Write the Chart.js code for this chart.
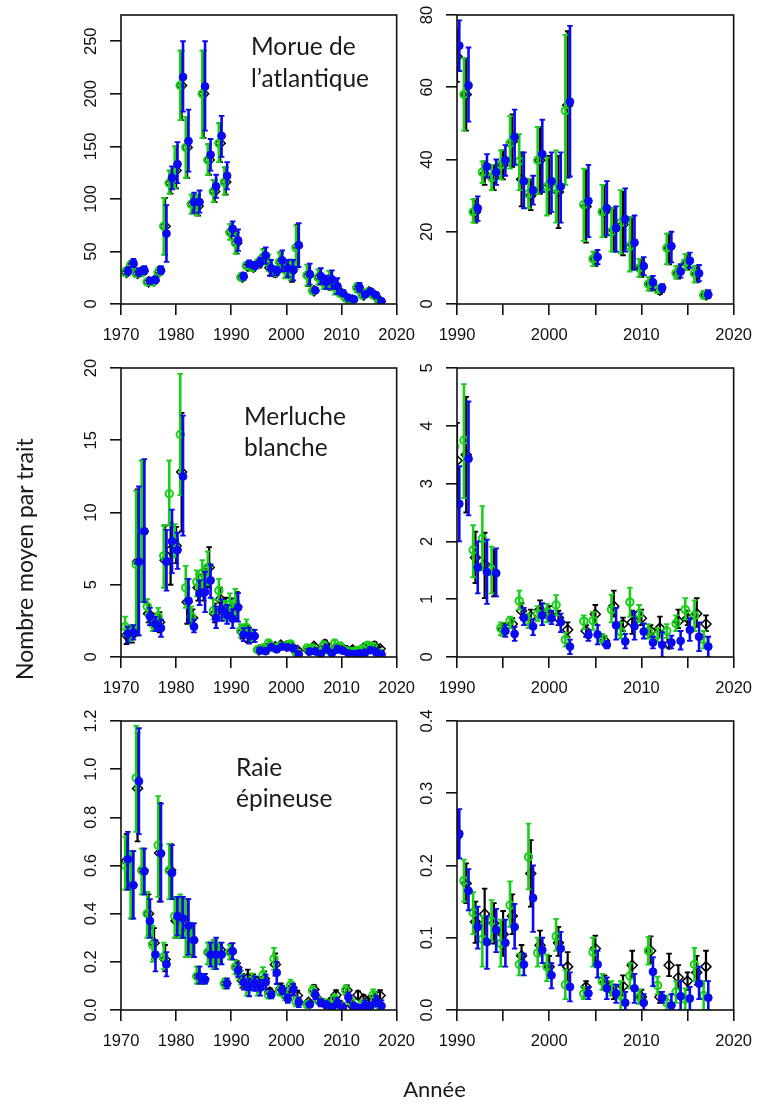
<!DOCTYPE html>
<html><head><meta charset="utf-8">
<script src="https://cdn.jsdelivr.net/npm/chart.js@4.4.1/dist/chart.umd.min.js"></script>
<style>
html,body{margin:0;padding:0;background:#fff;overflow:hidden;width:764px;height:1104px;position:relative}
canvas{position:absolute}
svg{position:absolute;left:0;top:0;pointer-events:none}
</style></head><body>
<script>
// ---------------- DATA ----------------
const years = [1971,1972,1973,1974,1975,1976,1977,1978,1979,1980,1981,1982,1983,1984,1985,1986,1987,1988,1989,
  1990,1991,1992,1993,1994,1995,1996,1997,1998,1999,2000,2001,2002,
  2004,2005,2006,2007,2008,2009,2010,2011,2012,2013,2014,2015,2016,2017];

// Morue de l'atlantique
const morueGreen   = [30,37,29,30,21,21,30,74,115,127,208,149,95,93,200,137,107,153,116, 68,58,25.5,36.5,35,38.5,44.5,39.5,30.5,39.8,32.5,32,53.5, 27.5,12.5,25.5,20,22.5,16,10,5.5,4,15.5,8.5,11.5,8.5,2.5];
const morueGreenLo = [27,33,26,27,18.5,18.5,27,47,105,110,175,120,86,84,158,123,97,135,104, 61,48,22.5,33.5,31.5,34.5,37.5,31.5,26.5,30.5,24.5,22.5,33, 17.5,10.5,18.5,14.5,14,9,7.5,3.7,3,11,7,9.5,6,1.5];
const morueGreenHi = [34,41,33,34,24,24,34,101,127,150,241,178,104,104,241,152,118,172,130, 76,68,29,39.5,38.5,42.5,52,47,34.5,49,40.5,42.5,74.5, 37.5,14.5,33,26.5,31.5,24,12.5,7.5,5.2,19.5,10.5,13.8,10.5,3.6];
const morueBlack   = [30,37,29,31,21,22,31,74,115,127,208,149,95,93,200,137,107,153,116, 68.5,58,25.5,36,35,38.5,45,34.5,30,39.8,33,31,55, 27,12.5,25.5,20.5,22,16.5,10,5.5,3.8,15.5,8.5,11.5,8.3,2.5];
const morueBlackLo = [27,33,26,28,18.5,19,28,47,105,110,175,120,86,84,158,123,97,135,104, 61.5,48,22.5,33,31.5,34.5,38,27,26,30.5,25,21,35, 17,10.5,18.5,14.5,13.5,9.5,7.5,3.7,2.8,11,7,9.5,6,1.5];
const morueBlackHi = [34,41,33,35,24,25,35,101,127,150,241,178,104,104,241,152,118,172,130, 76,68,29,39.5,38.5,42.5,52.5,42,34.5,49,41,41,75.5, 37,14.5,33,26.5,31,24,12.5,7.5,5,19.5,10.5,13.8,10.5,3.6];
const morueBlue    = [31,39,30,32,22,23,32,67,120,133,216,155,97,97,207,142,112,160,122, 71.5,60.5,26.5,38,36.5,39.8,46.2,34,31.5,41.5,34,32.5,56, 28.5,13,26.5,21,23.5,17,10.5,6,4.5,16,9,12,8.5,2.6];
const morueBlueLo  = [28,35,27,28.5,19.5,20,28.5,40,109,115,183,126,87,87,165,127,101,140,109, 64.5,50.5,23,35,33,35.5,38.5,26.5,27.5,31,25.5,22.5,35.3, 18.5,11,19,14.5,14.5,9.5,8,4,3.3,11.5,7.3,10,6.3,1.6];
const morueBlueHi  = [35,43,34,36,25,26,36,94,131,154,250,185,106,108,250,157,123,179,135, 78.5,71,29.8,41.5,40,44,53.8,42,35.5,51,42,42,77, 38.5,15,34,27,32,24.5,13,7.8,5.5,20,11,14.2,10.8,3.8];

// Merluche blanche
const merlGreen   = [2.1,1.6,6.4,8.7,3.5,2.3,2.8,7.0,11.3,8.0,15.4,4.8,2.8,5.2,5.8,6.2,3.2,4.6,3.2, 3.64,3.75,1.85,2.05,1.52,0.5,0.62,0.97,0.62,0.75,0.78,0.9,0.3, 0.62,0.63,0.33,0.82,0.44,0.95,0.75,0.44,0.38,0.45,0.58,0.82,0.72,0.3];
const merlGreenLo = [1.5,1.1,1.5,3.8,2.9,1.8,1.9,4.8,9.1,6.9,11.2,3.4,2.2,4.2,4.8,5.0,2.6,3.9,2.5, 2.9,2.75,1.38,1.5,1.1,0.38,0.5,0.82,0.5,0.62,0.6,0.72,0.18, 0.48,0.47,0.25,0.6,0.32,0.7,0.6,0.32,0.25,0.33,0.45,0.65,0.45,0.15];
const merlGreenHi = [2.8,2.2,11.5,13.6,4.0,2.8,3.4,9.1,13.6,9.2,19.6,6.3,3.5,6.0,6.7,7.3,4.0,5.4,3.9, 4.4,4.72,2.28,2.61,1.91,0.6,0.7,1.15,0.75,0.88,0.92,1.07,0.42, 0.72,0.78,0.4,1.08,0.6,1.2,0.9,0.57,0.5,0.57,0.72,1.02,0.98,0.45];
const merlBlack   = [1.5,1.5,6.6,8.7,3.0,2.5,2.4,6.7,7.4,7.7,12.8,3.8,2.7,4.8,5.0,6.2,3.0,4.0,3.4, 3.4,3.5,1.72,1.6,1.45,0.48,0.57,0.8,0.7,0.82,0.75,0.68,0.47, 0.45,0.74,0.28,0.88,0.57,0.6,0.67,0.45,0.5,0.22,0.62,0.67,0.75,0.57];
const merlBlackLo = [0.9,1.0,1.5,3.8,2.4,2.0,1.7,4.8,5.0,6.5,8.7,2.3,2.1,3.9,3.9,4.8,2.4,3.2,2.7, 2.75,2.5,1.28,1.02,1.05,0.37,0.5,0.68,0.58,0.67,0.62,0.55,0.35, 0.35,0.57,0.2,0.7,0.45,0.4,0.55,0.35,0.35,0.15,0.5,0.55,0.52,0.45];
const merlBlackHi = [2.1,2.1,11.6,13.6,3.6,3.0,3.1,9.1,9.3,9.0,16.9,5.4,3.3,5.7,6.1,7.6,3.7,4.8,4.1, 4.05,4.5,2.17,2.15,1.85,0.58,0.67,0.93,0.82,0.98,0.88,0.8,0.6, 0.55,0.9,0.36,1.15,0.68,0.8,0.82,0.55,0.7,0.3,0.82,0.8,1.02,0.72];
const merlBlue    = [1.6,1.7,6.6,8.7,2.8,2.3,2.0,6.6,8.0,7.4,12.5,3.9,2.1,4.4,4.5,5.3,2.7,3.3,2.9, 2.65,3.43,1.55,1.47,1.45,0.45,0.4,0.68,0.53,0.72,0.67,0.6,0.18, 0.38,0.39,0.21,0.55,0.27,0.53,0.44,0.25,0.21,0.25,0.28,0.47,0.35,0.18];
const merlBlueLo  = [1.0,1.2,1.5,3.8,2.2,1.8,1.4,4.6,5.8,6.1,8.4,2.4,1.7,3.6,3.1,4.1,2.0,2.5,2.3, 2.0,2.45,1.1,0.92,1.05,0.35,0.28,0.55,0.38,0.55,0.57,0.43,0.05, 0.28,0.22,0.15,0.3,0.15,0.3,0.32,0.15,0.0,0.15,0.13,0.28,0.1,0.0];
const merlBlueHi  = [2.1,2.2,11.8,13.7,3.4,2.8,2.6,8.8,10.2,8.6,16.7,5.4,2.6,5.3,5.9,6.4,3.5,4.0,3.6, 3.3,4.42,2.0,2.03,1.88,0.55,0.52,0.85,0.65,0.93,0.8,0.75,0.3, 0.47,0.55,0.28,0.85,0.4,0.78,0.58,0.35,0.43,0.37,0.45,0.67,0.6,0.35];

// Raie épineuse
const raieGreen   = [0.6,0.52,0.964,0.58,0.4,0.27,0.684,0.22,0.58,0.39,0.38,0.35,0.3,0.14,0.13,0.24,0.23,0.24,0.11, 0.24,0.179,0.135,0.098,0.123,0.092,0.145,0.063,0.212,0.079,0.06,0.102,0.035, 0.0226,0.08,0.04,0.03,0.02,0.047,0.018,0.082,0.034,0.01,0.025,0.015,0.063,0.02];
const raieGreenLo = [0.5,0.38,0.74,0.48,0.3,0.2,0.47,0.17,0.46,0.3,0.3,0.22,0.22,0.11,0.11,0.19,0.17,0.19,0.09, 0.21,0.15,0.105,0.06,0.095,0.06,0.115,0.048,0.167,0.06,0.04,0.082,0.015, 0.015,0.06,0.028,0.02,0.0,0.03,0.008,0.063,0.022,0.0,0.01,0.0,0.04,0.0];
const raieGreenHi = [0.72,0.66,1.18,0.67,0.49,0.35,0.888,0.28,0.69,0.47,0.48,0.46,0.36,0.18,0.15,0.28,0.29,0.28,0.13, 0.27,0.208,0.163,0.13,0.152,0.125,0.178,0.078,0.258,0.1,0.077,0.126,0.055, 0.032,0.1,0.05,0.04,0.04,0.065,0.028,0.101,0.046,0.02,0.04,0.03,0.086,0.04];
const raieBlack   = [0.62,0.52,0.92,0.58,0.4,0.278,0.652,0.21,0.58,0.37,0.38,0.34,0.29,0.14,0.13,0.24,0.23,0.25,0.11, 0.24,0.175,0.122,0.133,0.12,0.105,0.13,0.075,0.189,0.0895,0.06,0.093,0.06, 0.032,0.085,0.038,0.025,0.033,0.062,0.018,0.082,0.018,0.062,0.045,0.04,0.052,0.06];
const raieBlackLo = [0.5,0.38,0.7,0.48,0.31,0.21,0.45,0.16,0.47,0.3,0.3,0.22,0.22,0.11,0.11,0.19,0.17,0.2,0.09, 0.21,0.148,0.093,0.098,0.092,0.075,0.105,0.062,0.143,0.075,0.045,0.075,0.04, 0.024,0.068,0.028,0.015,0.02,0.045,0.01,0.065,0.01,0.047,0.03,0.028,0.035,0.04];
const raieBlackHi = [0.73,0.66,1.15,0.67,0.48,0.34,0.86,0.27,0.69,0.46,0.47,0.46,0.36,0.18,0.15,0.28,0.29,0.27,0.13, 0.275,0.203,0.15,0.168,0.148,0.137,0.16,0.09,0.235,0.11,0.075,0.115,0.08, 0.04,0.103,0.048,0.035,0.048,0.082,0.028,0.102,0.025,0.078,0.062,0.052,0.075,0.082];
const raieBlue    = [0.626,0.518,0.95,0.576,0.37,0.23,0.65,0.19,0.569,0.39,0.38,0.35,0.29,0.14,0.126,0.23,0.23,0.23,0.11, 0.244,0.165,0.115,0.094,0.111,0.093,0.115,0.063,0.155,0.083,0.048,0.085,0.032, 0.023,0.063,0.03,0.023,0.01,0.03,0.01,0.053,0.017,0.0065,0.019,0.016,0.0365,0.017];
const raieBlueLo  = [0.5,0.38,0.73,0.48,0.3,0.16,0.45,0.14,0.46,0.31,0.3,0.23,0.22,0.11,0.11,0.18,0.17,0.19,0.09, 0.21,0.138,0.085,0.057,0.08,0.06,0.085,0.048,0.108,0.065,0.03,0.062,0.012, 0.015,0.045,0.015,0.01,0.0,0.01,0.0,0.033,0.01,0.0,0.0,0.0,0.015,0.0];
const raieBlueHi  = [0.74,0.66,1.17,0.67,0.46,0.29,0.857,0.24,0.685,0.47,0.47,0.46,0.36,0.18,0.15,0.28,0.3,0.28,0.13, 0.278,0.195,0.143,0.13,0.14,0.125,0.147,0.078,0.2,0.1,0.065,0.108,0.052, 0.032,0.082,0.045,0.035,0.025,0.05,0.022,0.073,0.025,0.022,0.04,0.032,0.06,0.04];

// tick values / labels
const xTicksLeft  = [1970,1980,1990,2000,2010,2020];
const xTicksRight = [1990,1995,2000,2005,2010,2015,2020];
const xLabelsRight = [1990,2000,2010,2020];
const yTicksMorueL = [0,50,100,150,200,250];
const yTicksMorueR = [0,20,40,60,80];
const yTicksMerlL  = [0,5,10,15,20];
const yTicksMerlR  = [0,1,2,3,4,5];
const yTicksRaieL  = [0,0.2,0.4,0.6,0.8,1.0,1.2];
const yTicksRaieR  = [0,0.1,0.2,0.3,0.4];

// ---------------- STYLE / LAYOUT ----------------
const INK = '#111';
const GREEN = '#18d018';
const BLUE = '#0a0af2';
const PAD = {l: 50, t: 14, r: 22, b: 50};

const SPECIES = {
  morue: {g:[morueGreen,morueGreenLo,morueGreenHi], k:[morueBlack,morueBlackLo,morueBlackHi], b:[morueBlue,morueBlueLo,morueBlueHi]},
  merl:  {g:[merlGreen,merlGreenLo,merlGreenHi],   k:[merlBlack,merlBlackLo,merlBlackHi],   b:[merlBlue,merlBlueLo,merlBlueHi]},
  raie:  {g:[raieGreen,raieGreenLo,raieGreenHi],   k:[raieBlack,raieBlackLo,raieBlackHi],   b:[raieBlue,raieBlueLo,raieBlueHi]}
};
const fmtInt = v => String(v);
const fmt1 = v => Number(v).toFixed(1);
const PANELS = [
  {sp:'morue', xMin:1970, xMax:2020, xTicks:xTicksLeft,  yMax:275, yTicks:yTicksMorueL, yFmt:fmtInt, left:121, top:15,  w:283, h:289},
  {sp:'morue', xMin:1990, xMax:2020, xTicks:xTicksRight, yMax:80,  yTicks:yTicksMorueR, yFmt:fmtInt, left:457, top:15,  w:284, h:289},
  {sp:'merl',  xMin:1970, xMax:2020, xTicks:xTicksLeft,  yMax:20,  yTicks:yTicksMerlL,  yFmt:fmtInt, left:121, top:368, w:283, h:289},
  {sp:'merl',  xMin:1990, xMax:2020, xTicks:xTicksRight, yMax:5,   yTicks:yTicksMerlR,  yFmt:fmtInt, left:457, top:368, w:284, h:289},
  {sp:'raie',  xMin:1970, xMax:2020, xTicks:xTicksLeft,  yMax:1.2, yTicks:yTicksRaieL,  yFmt:fmt1,   left:121, top:721, w:283, h:289},
  {sp:'raie',  xMin:1990, xMax:2020, xTicks:xTicksRight, yMax:0.4, yTicks:yTicksRaieR,  yFmt:fmt1,   left:457, top:721, w:284, h:289}
];

function makeDatasets(sp) {
  const mk = (arr, off, style) => Object.assign({
    data: years.map((yr, i) => ({x: yr + off, y: arr[0][i]})),
    errLo: arr[1], errHi: arr[2], clip: 0, showLine: false
  }, style);
  // index 0 is drawn last (on top)
  return [
    mk(sp.b, 0.25, {label:'blue', pointStyle:'circle', pointRadius:3.9, pointBackgroundColor:BLUE, pointBorderColor:BLUE, pointBorderWidth:1, errColor:BLUE, errWidth:2.6}),
    mk(sp.g, -0.25, {label:'green', pointStyle:'circle', pointRadius:3.7, pointBackgroundColor:'rgba(0,0,0,0)', pointBorderColor:GREEN, pointBorderWidth:2, errColor:GREEN, errWidth:2.6}),
    mk(sp.k, 0, {label:'black', pointStyle:'rectRot', pointRadius:5, pointBackgroundColor:'rgba(0,0,0,0)', pointBorderColor:'#000', pointBorderWidth:1.5, errColor:'#000', errWidth:2.2})
  ];
}

function makePlugin(panel) {
  return {
    id: 'panelPlugin',
    beforeDatasetDraw(chart, args) {
      const ds = chart.data.datasets[args.index];
      const {ctx, chartArea: a, scales: {x, y}} = chart;
      ctx.save();
      ctx.beginPath(); ctx.rect(a.left, a.top, a.right - a.left, a.bottom - a.top); ctx.clip();
      ctx.strokeStyle = ds.errColor; ctx.lineCap = 'butt';
      const cap = 2.8;
      ds.data.forEach((p, i) => {
        const px = x.getPixelForValue(p.x);
        if (px < a.left - 6 || px > a.right + 6) return;
        const y1 = y.getPixelForValue(ds.errLo[i]), y2 = y.getPixelForValue(ds.errHi[i]);
        ctx.lineWidth = ds.errWidth;
        ctx.beginPath(); ctx.moveTo(px, y1); ctx.lineTo(px, y2); ctx.stroke();
        ctx.lineWidth = 1.8;
        ctx.beginPath();
        ctx.moveTo(px - cap, y1); ctx.lineTo(px + cap, y1);
        ctx.moveTo(px - cap, y2); ctx.lineTo(px + cap, y2);
        ctx.stroke();
      });
      ctx.restore();
    },
    afterDraw(chart) {
      const {ctx, chartArea: a, scales: {y}} = chart;
      ctx.save();
      ctx.strokeStyle = INK; ctx.lineWidth = 1.6;
      ctx.strokeRect(a.left, a.top, a.right - a.left, a.bottom - a.top);
      ctx.fillStyle = INK;
      ctx.font = '16.5px "Liberation Sans", Arial, sans-serif';
      ctx.textAlign = 'center'; ctx.textBaseline = 'alphabetic';
      y.ticks.forEach(t => {
        const py = y.getPixelForValue(t.value);
        ctx.save();
        ctx.translate(a.left - 25, py);
        ctx.rotate(-Math.PI / 2);
        ctx.fillText(panel.yFmt(t.value), 0, 0);
        ctx.restore();
      });
      ctx.restore();
    }
  };
}

PANELS.forEach(p => {
  const canvas = document.createElement('canvas');
  const W = PAD.l + p.w + PAD.r, H = PAD.t + p.h + PAD.b;
  canvas.width = W; canvas.height = H;
  canvas.style.cssText = `left:${p.left - PAD.l}px;top:${p.top - PAD.t}px;width:${W}px;height:${H}px`;
  document.body.appendChild(canvas);
  const isRight = p.xMin === 1990;
  const grid = {drawOnChartArea:false, drawTicks:true, tickLength:11, color:INK, lineWidth:1.6};
  new Chart(canvas, {
    type: 'scatter',
    data: {datasets: makeDatasets(SPECIES[p.sp])},
    options: {
      responsive:false, animation:false, devicePixelRatio:1, events:[],
      layout: {padding:{left:0, top:PAD.t, right:PAD.r, bottom:0}},
      plugins: {legend:{display:false}, tooltip:{enabled:false}},
      scales: {
        x: {type:'linear', min:p.xMin, max:p.xMax,
            afterBuildTicks: s => { s.ticks = p.xTicks.map(v => ({value:v})); },
            afterFit: s => { s.height = PAD.b; },
            grid, border:{display:false},
            ticks:{autoSkip:false, maxRotation:0, minRotation:0, padding:11, color:INK,
                   font:{family:'"Liberation Sans", Arial, sans-serif', size:16.5},
                   callback: v => (!isRight || xLabelsRight.includes(v)) ? String(v) : ''}},
        y: {type:'linear', min:0, max:p.yMax,
            afterBuildTicks: s => { s.ticks = p.yTicks.map(v => ({value:v})); },
            afterFit: s => { s.width = PAD.l; },
            grid, border:{display:false}, ticks:{display:false}}
      }
    },
    plugins: [makePlugin(p)]
  });
});
</script>
<svg width="764" height="1104" xmlns="http://www.w3.org/2000/svg" font-family="Lato, 'Noto Sans', sans-serif" fill="#1a1a1a">
  <text x="251" y="55" font-size="24.5">Morue de</text>
  <text x="251" y="87" font-size="24.5">l’atlantique</text>
  <text x="244" y="425" font-size="24.5">Merluche</text>
  <text x="244" y="456" font-size="24.5">blanche</text>
  <text x="236" y="776" font-size="24.5">Raie</text>
  <text x="236" y="807" font-size="24.5">épineuse</text>
  <text transform="translate(33,680) rotate(-90)" font-size="23">Nombre moyen par trait</text>
  <text x="434.5" y="1097" font-size="22" text-anchor="middle">Année</text>
</svg>
</body></html>
